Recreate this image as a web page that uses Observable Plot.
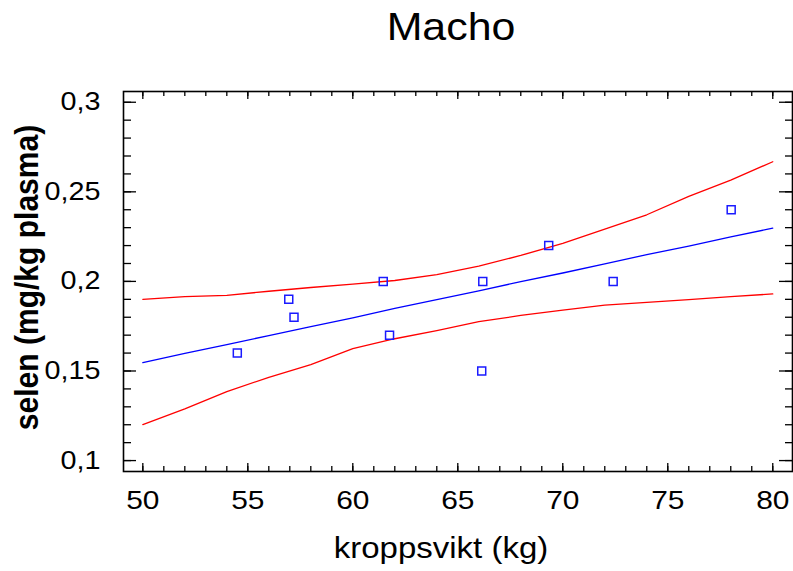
<!DOCTYPE html>
<html>
<head>
<meta charset="utf-8">
<script src="https://cdn.jsdelivr.net/npm/d3@7"></script>
<script src="https://cdn.jsdelivr.net/npm/@observablehq/plot@0.6"></script>
<style>
  html, body { margin: 0; padding: 0; background: #fff; }
  #chart svg { display: block; }
</style>
</head>
<body>
<div id="chart"></div>
<script>
// Observed data points
const weightKg = [54.5, 56.95, 57.2, 61.45, 61.75, 66.19, 66.14, 69.33, 72.4, 78.02];
const seleniumMg = [0.16, 0.19, 0.18, 0.20, 0.17, 0.20, 0.15, 0.22, 0.20, 0.24];

// Curves
const curveX =     [50,     52,     54,     56,     58,     60,     62,     64,     66,     68,     70,     72,     74,     76,     78,     80];
const fitY =       [0.1547, 0.1598, 0.1647, 0.1698, 0.1748, 0.1797, 0.1849, 0.1898, 0.1947, 0.1999, 0.2047, 0.2098, 0.2149, 0.2197, 0.2248, 0.2297];
const upperY =     [0.1900, 0.1915, 0.1922, 0.1945, 0.1966, 0.1985, 0.2005, 0.2038, 0.2085, 0.2145, 0.2212, 0.2292, 0.2372, 0.2475, 0.2565, 0.2668];
const lowerY =     [0.1201, 0.1288, 0.1385, 0.1465, 0.1536, 0.1625, 0.1680, 0.1725, 0.1775, 0.1810, 0.1840, 0.1868, 0.1883, 0.1898, 0.1915, 0.1930];

// Axis ticks
const xMajor = [50, 55, 60, 65, 70, 75, 80];
const xMinor = d3.range(50, 81, 1);
const yMajor = [0.1, 0.15, 0.2, 0.25, 0.3];
const yMinor = d3.range(10, 31, 1).map(d => d / 100);

const title = "Macho";
const xTitle = "kroppsvikt (kg)";
const yTitle = "selen (mg/kg plasma)";

const points = weightKg.map((x, i) => ({x, y: seleniumMg[i]}));
const fit = curveX.map((x, i) => ({x, y: fitY[i]}));
const upper = curveX.map((x, i) => ({x, y: upperY[i]}));
const lower = curveX.map((x, i) => ({x, y: lowerY[i]}));

const W = 793, H = 571;
const mL = 123, mR = 1, mT = 91, mB = 100;
const fw = W - mL - mR, fh = H - mT - mB;
const font = "'Liberation Sans', Arial, Helvetica, sans-serif";
const fmt = d => String(d).replace(".", ",");

const chart = Plot.plot({
  width: W,
  height: H,
  marginLeft: mL,
  marginRight: mR,
  marginTop: mT,
  marginBottom: mB,
  style: {fontFamily: font, background: "#fff", color: "#000"},
  x: {domain: [49.08, 80.94]},
  y: {domain: [0.0939, 0.306]},
  marks: [
    // tick labels
    Plot.axisX(xMajor, {tickSize: 0, tickPadding: 19, fontSize: 26, label: null, tickFormat: fmt}),
    Plot.axisY(yMajor, {tickSize: 0, tickPadding: 23, fontSize: 25, label: null, tickFormat: fmt}),
    // inward ticks: bottom / top
    Plot.tickX(xMajor, {x: d => d, insetTop: fh - 8, stroke: "#000", strokeWidth: 1.3}),
    Plot.tickX(xMinor, {x: d => d, insetTop: fh - 5, stroke: "#000", strokeWidth: 1.3}),
    Plot.tickX(xMajor, {x: d => d, insetBottom: fh - 8, stroke: "#000", strokeWidth: 1.3}),
    Plot.tickX(xMinor, {x: d => d, insetBottom: fh - 5, stroke: "#000", strokeWidth: 1.3}),
    // inward ticks: left / right
    Plot.tickY(yMajor, {y: d => d, insetRight: fw - 13, stroke: "#000", strokeWidth: 1.3}),
    Plot.tickY(yMinor, {y: d => d, insetRight: fw - 8, stroke: "#000", strokeWidth: 1.3}),
    Plot.tickY(yMajor, {y: d => d, insetLeft: fw - 13, stroke: "#000", strokeWidth: 1.3}),
    Plot.tickY(yMinor, {y: d => d, insetLeft: fw - 7, stroke: "#000", strokeWidth: 1.3}),
    Plot.frame({stroke: "#000", strokeWidth: 1.6}),
    // curves
    Plot.line(upper, {x: "x", y: "y", stroke: "#ff0000", strokeWidth: 1.3}),
    Plot.line(lower, {x: "x", y: "y", stroke: "#ff0000", strokeWidth: 1.3}),
    Plot.line(fit, {x: "x", y: "y", stroke: "#0000ff", strokeWidth: 1.3}),
    Plot.dot(points, {x: "x", y: "y", symbol: "square", r: 4.5, stroke: "#1a1aff", fill: "none", strokeWidth: 1.5}),
    // titles
    Plot.text([title], {frameAnchor: "top", textAnchor: "middle", dy: -52, dx: -7, lineAnchor: "bottom", fontSize: 39, fill: "#000"}),
    Plot.text([xTitle], {frameAnchor: "bottom", textAnchor: "middle", dy: 86, dx: -17, lineAnchor: "bottom", fontSize: 30, fill: "#000"}),
    Plot.text([yTitle], {frameAnchor: "left", textAnchor: "middle", dx: -86, dy: -4, rotate: -90, lineAnchor: "bottom", fontSize: 33, fontWeight: "bold", fill: "#000"})
  ]
});
document.getElementById("chart").appendChild(chart);

// The reference's lettering has slightly different proportions than the font:
// adjust the advance length of each text along its own direction.
function fitLength(t, factor) {
  const len = t.getComputedTextLength();
  if (len > 0) {
    t.setAttribute("textLength", (len * factor).toFixed(2));
    t.setAttribute("lengthAdjust", "spacingAndGlyphs");
  }
}
const tickLabels = new Set([...xMajor, ...yMajor].map(fmt));
chart.querySelectorAll("text").forEach(t => {
  const s = t.textContent;
  if (s === title) fitLength(t, 1.1);
  else if (s === xTitle) fitLength(t, 1.1);
  else if (s === yTitle) fitLength(t, 0.91);
  else if (tickLabels.has(s)) fitLength(t, 1.15);
});
</script>
</body>
</html>
